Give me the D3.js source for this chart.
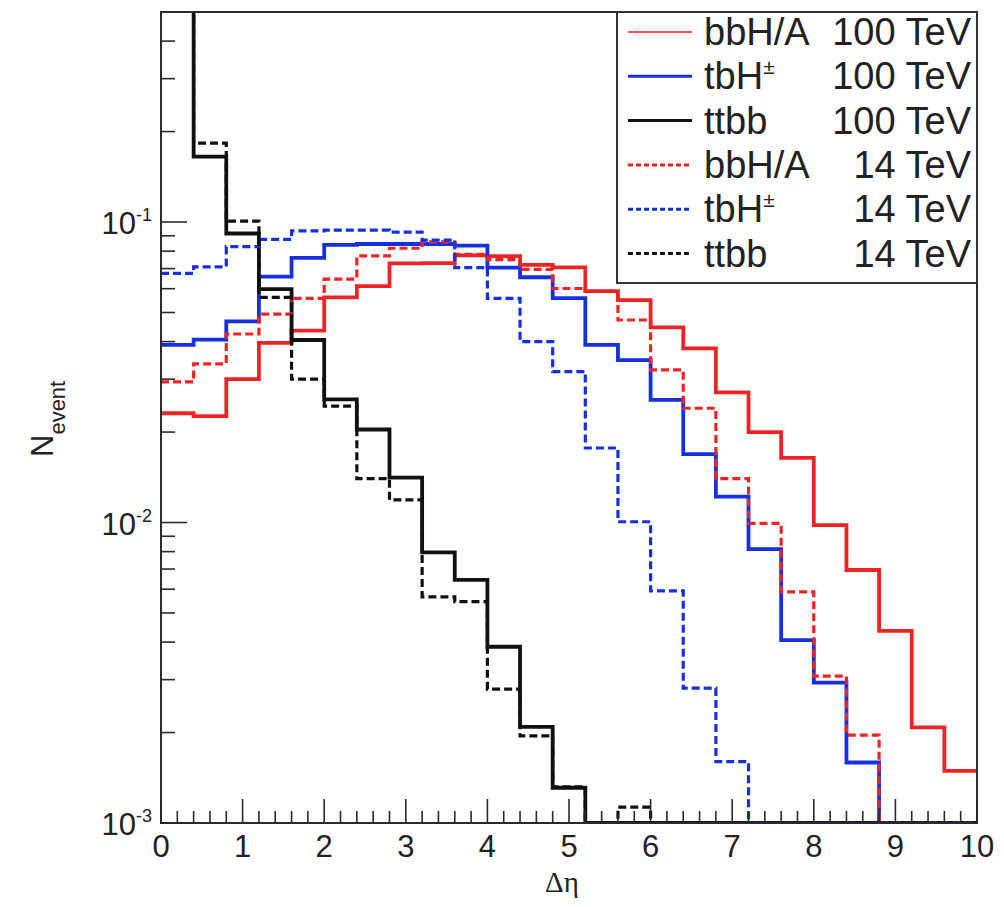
<!DOCTYPE html>
<html>
<head>
<meta charset="utf-8">
<script src="https://cdn.jsdelivr.net/npm/d3@7"></script>
<style>
  html, body { margin: 0; padding: 0; background: #fff; }
  svg { display: block; }
  text { font-family: "Liberation Sans", Arial, Helvetica, sans-serif; fill: #222; }
</style>
</head>
<body>
<svg id="chart" width="1004" height="907"></svg>
<script>
// ---- data (bin edges 0..10, width 0.4) ----
const binEdges = d3.range(0, 10.0001, 0.4).map(d => +d.toFixed(1));
const bbH100 = [0.0231, 0.0226, 0.030, 0.0396, 0.0435, 0.0561, 0.0612, 0.0729, 0.073, 0.0775, 0.077, 0.072, 0.0707, 0.0589, 0.055, 0.0446, 0.038, 0.0271, 0.020, 0.0164, 0.0098, 0.00695, 0.00436, 0.00208, 0.00149];
const tbH100 = [0.039, 0.0406, 0.0467, 0.0658, 0.076, 0.0839, 0.0845, 0.0845, 0.0845, 0.0835, 0.0705, 0.0655, 0.0558, 0.039, 0.0347, 0.0256, 0.0169, 0.0122, 0.00815, 0.00406, 0.00293, 0.00159, 0, 0, 0];
const ttbb100 = [0.6, 0.165, 0.0916, 0.0598, 0.0405, 0.0257, 0.0204, 0.0141, 0.00796, 0.00644, 0.00386, 0.00209, 0.00131, 0, 0, 0, 0, 0, 0, 0, 0, 0, 0, 0, 0];
const bbH14 = [0.0294, 0.0337, 0.0424, 0.0494, 0.0557, 0.0646, 0.0771, 0.0818, 0.0859, 0.078, 0.075, 0.0696, 0.0601, 0.0588, 0.0472, 0.0322, 0.024, 0.014, 0.00993, 0.00588, 0.00308, 0.00196, 0, 0, 0];
const tbH14 = [0.0675, 0.0709, 0.0828, 0.0875, 0.0935, 0.094, 0.094, 0.0925, 0.087, 0.0705, 0.0557, 0.040, 0.0318, 0.0177, 0.01006, 0.00592, 0.00281, 0.0016, 0, 0, 0, 0, 0, 0, 0];
const ttbb14 = [0.6, 0.183, 0.1007, 0.0561, 0.030, 0.0244, 0.014, 0.0119, 0.00566, 0.00545, 0.00279, 0.00195, 0.00132, 0, 0.00113, 0, 0, 0, 0, 0, 0, 0, 0, 0, 0];

const xTicks = [0, 1, 2, 3, 4, 5, 6, 7, 8, 9, 10];
const yTickExponents = [-3, -2, -1];
const legendNames = ["bbH/A", "tbH", "ttbb", "bbH/A", "tbH", "ttbb"];
const legendSup = ["", "\u00B1", "", "", "\u00B1", ""];
const legendEnergy = ["100 TeV", "100 TeV", "100 TeV", "14 TeV", "14 TeV", "14 TeV"];

const RED = "#ec2424", BLUE = "#1630e0", BLACK = "#111";
const series = [
  { values: bbH100, color: RED, dash: null },
  { values: tbH100, color: BLUE, dash: null },
  { values: ttbb100, color: BLACK, dash: null },
  { values: bbH14, color: RED, dash: "8,4" },
  { values: tbH14, color: BLUE, dash: "8,4" },
  { values: ttbb14, color: BLACK, dash: "8,4" }
];

// ---- layout ----
const L = 161, R = 977, T = 12, B = 823;
const svg = d3.select("#chart");
const x = d3.scaleLinear().domain([0, 10]).range([L, R]);
const y = d3.scaleLog().domain([1e-3, 0.5]).range([B, T]);

svg.append("defs").append("clipPath").attr("id", "clip")
  .append("rect").attr("x", L).attr("y", T).attr("width", R - L).attr("height", B - T);

// histograms
const yv = v => (v > 0 ? y(v) : B);
const line = d3.line().x(d => d[0]).y(d => d[1]);
const gH = svg.append("g").attr("clip-path", "url(#clip)");
series.forEach(s => {
  const pts = [];
  s.values.forEach((v, i) => {
    pts.push([x(binEdges[i]), yv(v)]);
    pts.push([x(binEdges[i + 1]), yv(v)]);
  });
  gH.append("path").attr("d", line(pts))
    .attr("fill", "none").attr("stroke", s.color)
    .attr("stroke-width", s.dash ? 3.2 : 3.8)
    .attr("stroke-dasharray", s.dash)
    .attr("stroke-linejoin", "miter");
});

// frame
svg.append("rect").attr("x", L).attr("y", T).attr("width", R - L).attr("height", B - T)
  .attr("fill", "none").attr("stroke", "#2a2a2a").attr("stroke-width", 2);

// x axis ticks
const xMinor = d3.range(0, 10.0001, 0.2).map(d => +d.toFixed(1));
const gx = svg.append("g");
gx.selectAll("line.minor").data(xMinor).enter().append("line")
  .attr("x1", d => x(d)).attr("x2", d => x(d))
  .attr("y1", B).attr("y2", d => (Math.abs(d - Math.round(d)) < 1e-6 ? B - 24 : B - 12))
  .attr("stroke", "#2a2a2a").attr("stroke-width", 1.6);
gx.selectAll("text").data(xTicks).enter().append("text")
  .attr("x", d => x(d)).attr("y", 857)
  .attr("text-anchor", "middle").attr("font-size", 31)
  .text(d => d);

// y axis ticks
const gy = svg.append("g");
const yMinor = [];
[-3, -2, -1].forEach(e => { for (let k = 1; k <= 9; k++) { const v = k * Math.pow(10, e); if (v <= 0.5 + 1e-9) yMinor.push([v, k === 1]); } });
gy.selectAll("line").data(yMinor).enter().append("line")
  .attr("x1", L).attr("x2", d => L + (d[1] ? 26 : 14))
  .attr("y1", d => y(d[0])).attr("y2", d => y(d[0]))
  .attr("stroke", "#2a2a2a").attr("stroke-width", 1.6);
yTickExponents.forEach(e => {
  const t = gy.append("text")
    .attr("x", 152).attr("y", y(Math.pow(10, e)) + 12)
    .attr("text-anchor", "end").attr("font-size", 31);
  t.append("tspan").text("10");
  t.append("tspan").attr("font-size", 18).attr("dy", -13).text(String(e));
});

// axis titles
svg.append("text").attr("x", 562).attr("y", 892)
  .attr("text-anchor", "middle").attr("font-size", 29)
  .style("font-family", "'Liberation Serif', 'DejaVu Serif', serif")
  .text("\u0394\u03B7");
const yt = svg.append("text").attr("transform", "translate(53,457) rotate(-90)")
  .attr("text-anchor", "start").attr("font-size", 31);
yt.append("tspan").text("N");
yt.append("tspan").attr("font-size", 22).attr("dy", 12).text("event");

// legend
const lg = svg.append("g");
lg.append("rect").attr("x", 617).attr("y", T).attr("width", R - 617).attr("height", 283 - T)
  .attr("fill", "#fff").attr("stroke", "#333").attr("stroke-width", 2);
series.forEach((s, i) => {
  const cy = 32 + i * 44.3;
  lg.append("line").attr("x1", 628).attr("x2", 692).attr("y1", cy).attr("y2", cy)
    .attr("stroke", s.color).attr("stroke-width", i === 0 ? 1.6 : 3)
    .attr("stroke-dasharray", s.dash ? "5,3" : null);
  const t = lg.append("text").attr("x", 704).attr("y", cy + 13).attr("font-size", 38);
  t.append("tspan").text(legendNames[i]);
  if (legendSup[i]) t.append("tspan").attr("font-size", 21).attr("dy", -15).text(legendSup[i]);
  lg.append("text").attr("x", 971).attr("y", cy + 13).attr("font-size", 38)
    .attr("text-anchor", "end").text(legendEnergy[i]);
});
</script>
</body>
</html>
